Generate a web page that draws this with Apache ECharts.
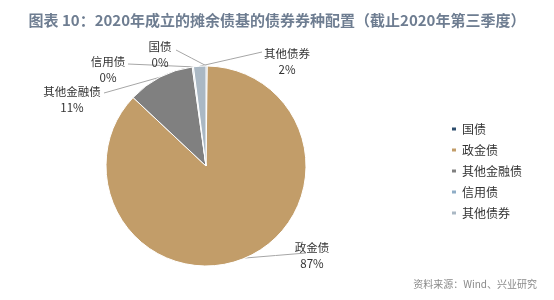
<!DOCTYPE html>
<html>
<head>
<meta charset="utf-8">
<script src="https://cdn.jsdelivr.net/npm/echarts@6/dist/echarts.min.js"></script>
<style>html,body{margin:0;padding:0;background:#fff;}#c{width:554px;height:300px;}</style>
</head>
<body>
<div id="c"></div>
<script>
const titleText = '图表 10：2020年成立的摊余债基的债券券种配置（截止2020年第三季度）';
const sourceText = '资料来源：Wind、兴业研究';
const categories = ['国债', '政金债', '其他金融债', '信用债', '其他债券'];
const values = [0.2, 86.8, 10.8, 0.2, 2.0];
const displayPct = [0, 87, 11, 0, 2];
const colors = ['#2d4d6d', '#c29d69', '#808080', '#8fadc6', '#aab8c4'];
// label anchor positions (pixel) and line end points
const labelPos = [[160, 55], [312, 256], [72, 100], [108, 70], [287, 62]];
const lineEnds = [[176, 50], [306, 253], [104, 93], [128, 64], [262, 52]];

const chart = echarts.init(document.getElementById('c'));
chart.setOption({
  animation: false,
  color: colors,
  title: {
    text: titleText,
    left: 'center',
    top: 8,
    textStyle: { fontFamily: 'Noto Sans CJK SC', fontSize: 15, fontWeight: 'bold', color: '#6e7d91' }
  },
  legend: {
    orient: 'vertical',
    left: 445,
    top: 118,
    itemWidth: 6,
    itemHeight: 5,
    itemGap: 9,
    icon: 'rect',
    textStyle: { fontFamily: 'Noto Sans CJK SC', fontSize: 12, color: '#333' },
    data: categories
  },
  graphic: [{
    type: 'text',
    right: 17,
    top: 279,
    style: { text: sourceText, font: '10px "Noto Sans CJK SC"', fill: '#8a8a8a' }
  }],
  series: [{
    type: 'pie',
    center: [206, 166],
    radius: 100,
    startAngle: 90,
    clockwise: true,
    avoidLabelOverlap: false,
    itemStyle: { borderColor: '#fff', borderWidth: 1 },
    label: {
      show: true,
      position: 'outside',
      fontFamily: 'Noto Sans CJK SC',
      fontSize: 11.5,
      color: '#333',
      lineHeight: 16,
      align: 'center',
      formatter: function (p) { return p.name + '\n' + displayPct[p.dataIndex] + '%'; }
    },
    labelLine: { show: true, length: 5, length2: 5, lineStyle: { color: '#a6a6a6', width: 1 } },
    labelLayout: function (params) {
      const i = params.dataIndex;
      const start = params.labelLinePoints ? params.labelLinePoints[0] : lineEnds[i];
      const end = lineEnds[i];
      return {
        x: labelPos[i][0],
        y: labelPos[i][1],
        align: 'center',
        verticalAlign: 'middle',
        labelLinePoints: [start, [(start[0] + end[0]) / 2, (start[1] + end[1]) / 2], end]
      };
    },
    emphasis: { disabled: true },
    data: categories.map((c, i) => ({ name: c, value: values[i] }))
  }]
});
</script>
</body>
</html>
